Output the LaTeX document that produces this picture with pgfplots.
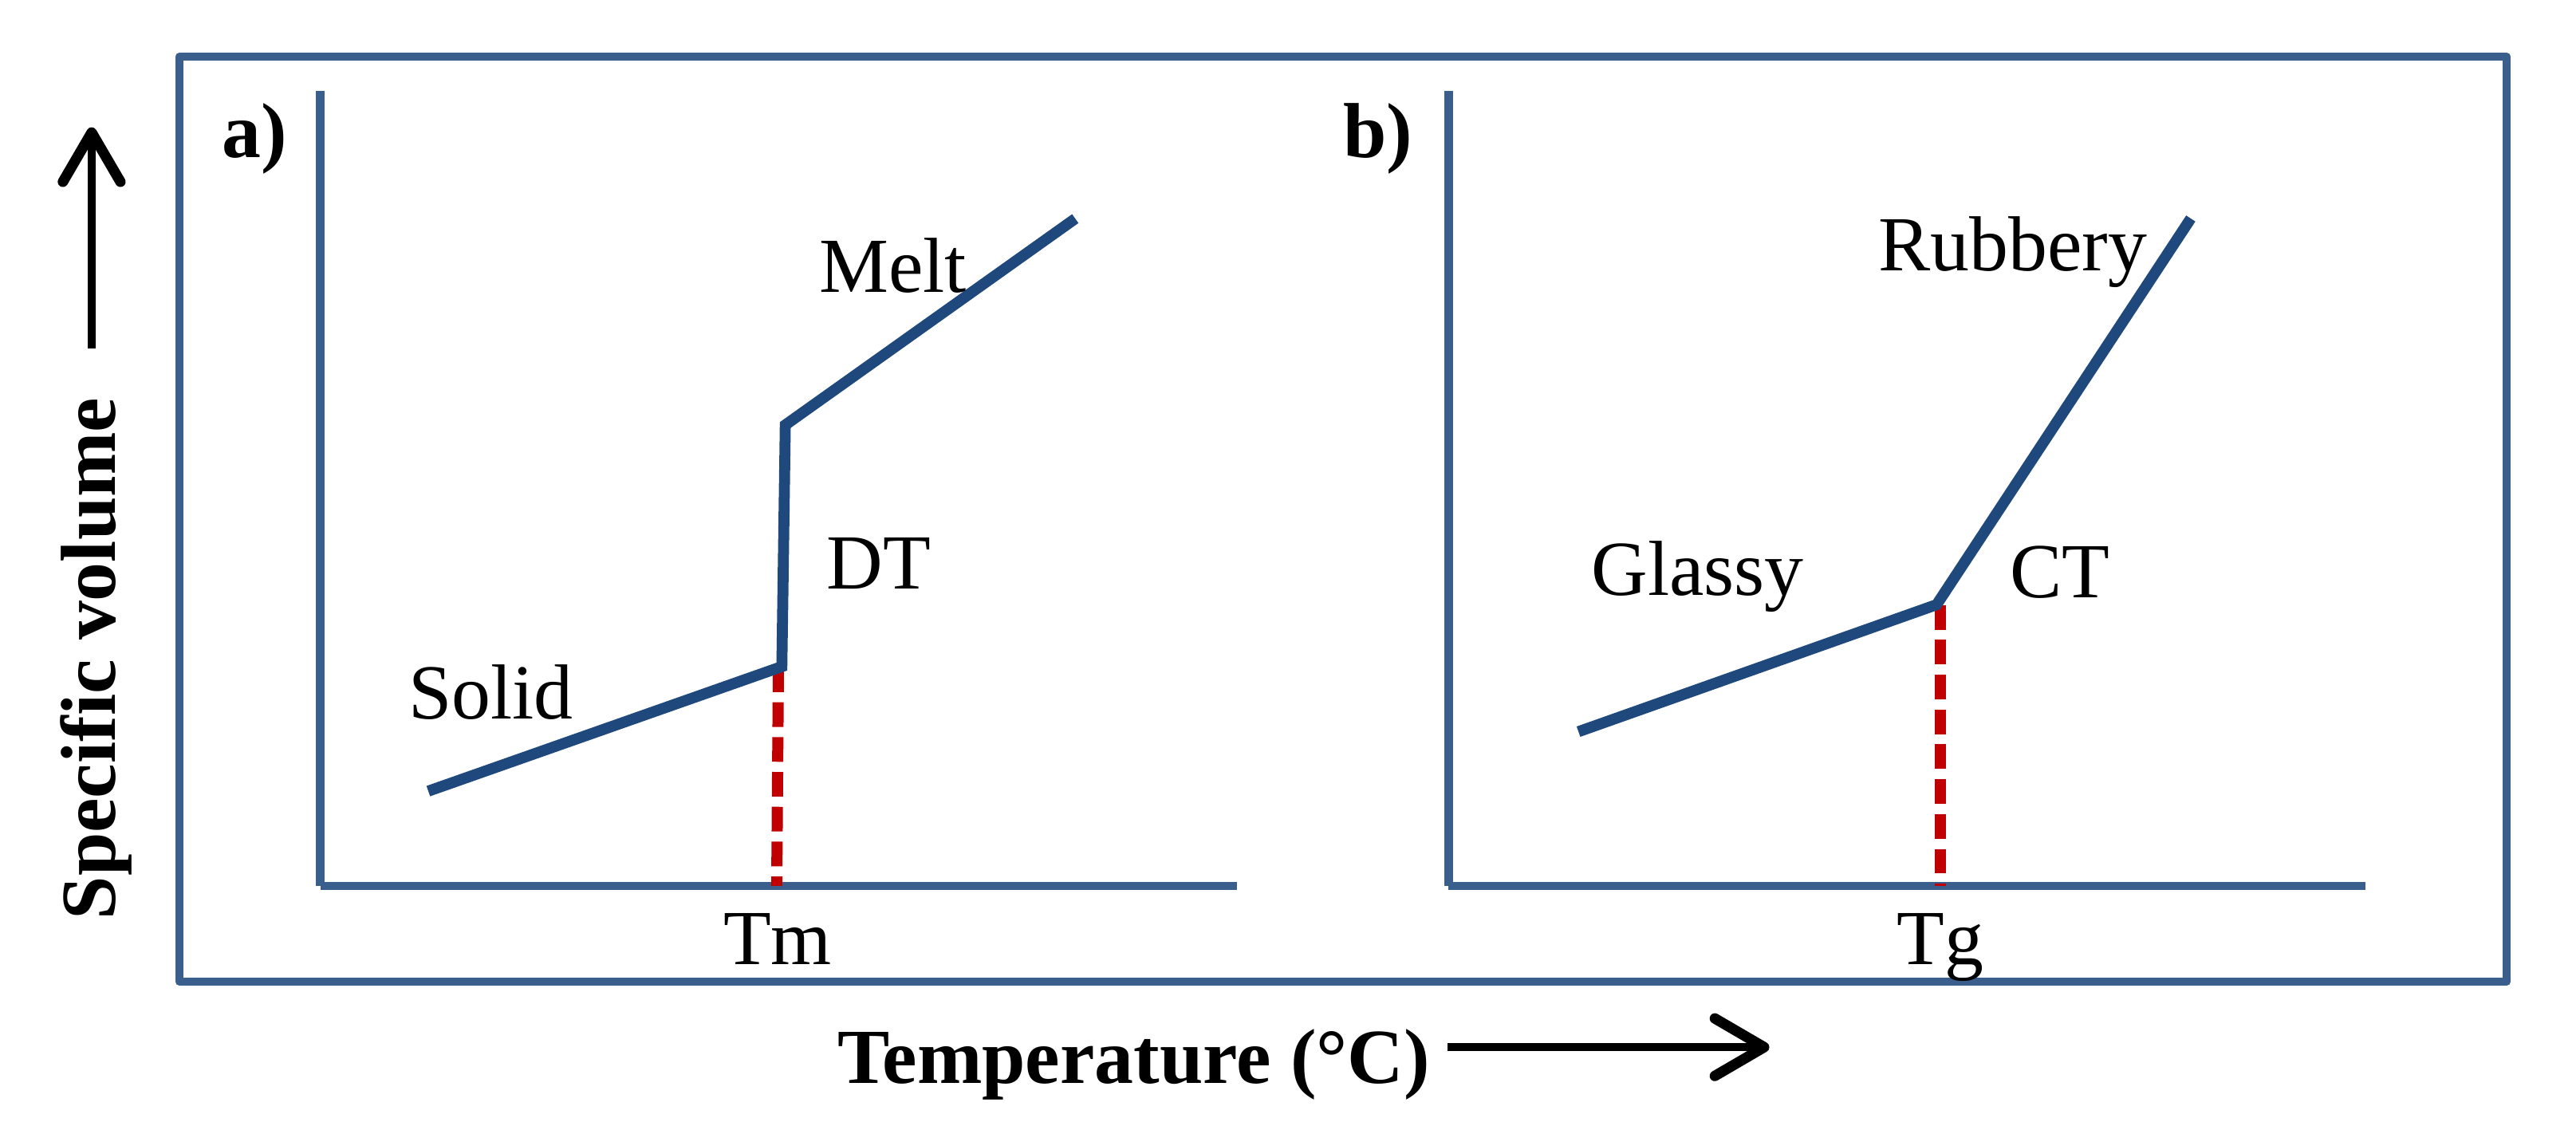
\documentclass[border=0pt]{standalone}
\usepackage{pgfplots}
\pgfplotsset{compat=1.18}
\usetikzlibrary{arrows.meta}
\usepackage{fontspec}
\setmainfont{Liberation Serif}
\definecolor{framecol}{RGB}{58,95,140}
\definecolor{curvecol}{RGB}{31,73,125}
\definecolor{redcol}{RGB}{192,0,0}
\pgfplotsset{
  schem/.style={
    x=0.01cm, y=0.01cm,
    xmin=0, xmax=558, ymin=0, ymax=484,
    axis lines=left,
    axis line style={-, line width=1.48pt, draw=framecol},
    xtick=\empty, ytick=\empty,
    clip=false,
    scale only axis,
    anchor=south west,
  },
  curve/.style={draw=curvecol, line width=1.9pt, no markers},
  redd/.style={draw=redcol, line width=1.93pt, no markers, dash pattern=on 0.15cm off 0.062cm},
}
\begin{document}
\fontsize{13.5}{16}\selectfont
\begin{tikzpicture}[x=0.01cm,y=-0.01cm]
\useasboundingbox (0,0) rectangle (1568,683);
% outer frame
\draw[framecol, line width=1.39pt, line join=round] (109.1,34.6) rectangle (1525.9,597.6);

% panel a
\begin{axis}[schem, at={(1.948cm,-5.39cm)}]
\addplot[redd] coordinates {(278.9,133) (277.9,0)};
\addplot[curve] coordinates {(65.8,57.7) (281.0,133.5) (283.1,280.6) (459.6,406.2)};
\end{axis}

% panel b
\begin{axis}[schem, at={(8.813cm,-5.39cm)}]
\addplot[redd] coordinates {(299.2,171) (299.2,0)};
\addplot[curve] coordinates {(79.0,93.9) (297.0,171.2) (451.7,406.3)};
\end{axis}

% labels
\begin{scope}[every node/.style={inner sep=0pt, anchor=base west}]
\node[font=\bfseries] at (134.6,95.8) {a)};
\node[font=\bfseries] at (816.8,95.8) {b)};
\node at (248,437.5) {Solid};
\node at (502.6,358.7) {DT};
\node at (498,177.8) {Melt};
\node at (439.6,587.2) {Tm};
\node at (1142.8,164.7) {Rubbery};
\node at (968,362.2) {Glassy};
\node at (1223,364) {CT};
\node at (1154,587.2) {Tg};
\node[font=\bfseries] at (509.2,659.5) {Temperature (°C)};
\end{scope}
\node[font=\bfseries, rotate=90, anchor=base, inner sep=0pt] at (70,401) {Specific volume};

% axis-direction arrows
\draw[line width=1.42pt, -{Straight Barb[length=0.3cm,width=0.35cm,round,line width=1.8pt]}] (55.8,212) -- (55.8,77.5);
\draw[line width=1.42pt, -{Straight Barb[length=0.3cm,width=0.35cm,round,line width=1.8pt]}] (881,637.5) -- (1077,637.5);
\end{tikzpicture}
\end{document}
